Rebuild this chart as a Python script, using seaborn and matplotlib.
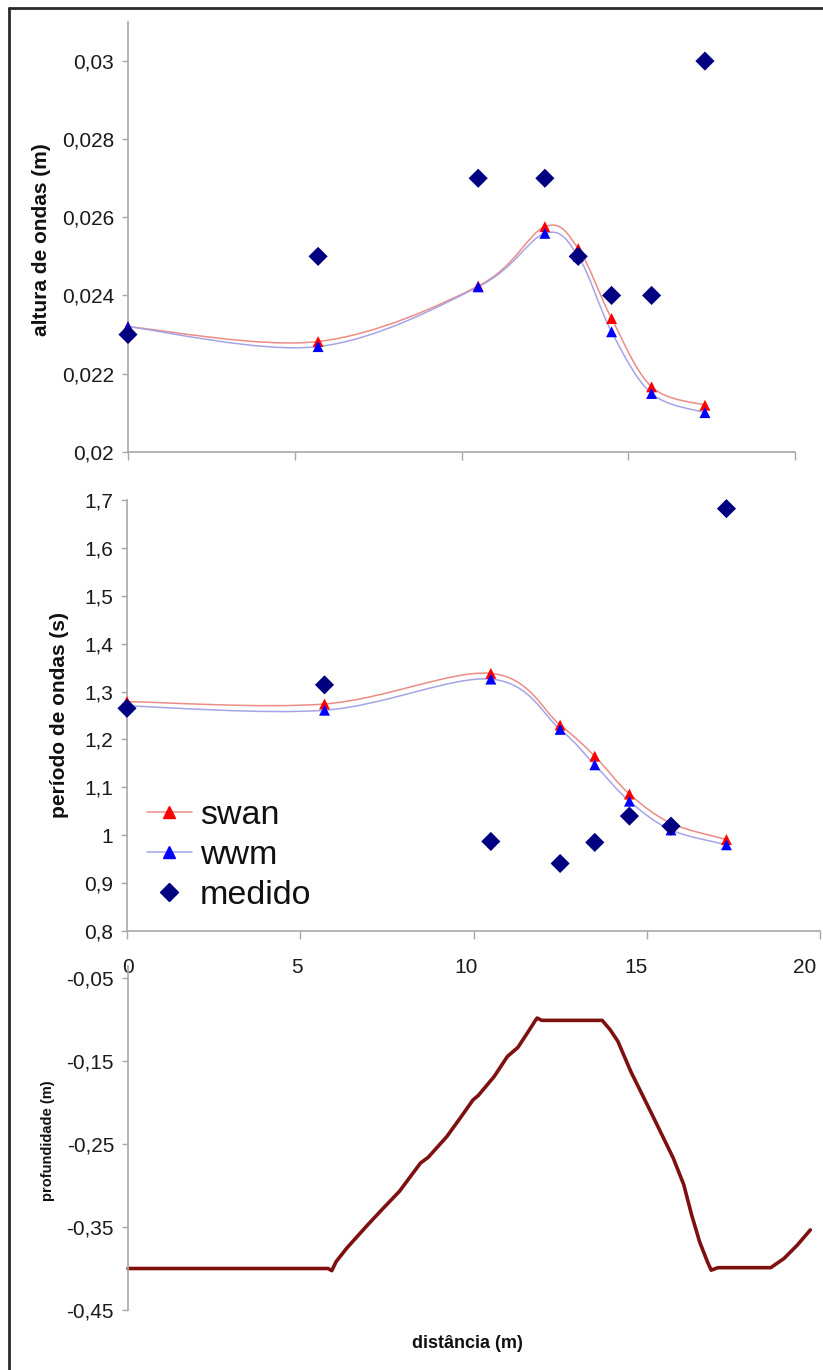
import numpy as np
import pandas as pd
import seaborn as sns
import matplotlib
matplotlib.use("Agg")
import matplotlib.pyplot as plt
from matplotlib.path import Path
from matplotlib.patches import PathPatch
from matplotlib.lines import Line2D
from matplotlib.ticker import FuncFormatter

sns.set_theme(style="white")
plt.rcParams["font.family"] = ["Liberation Sans", "DejaVu Sans"]

# ---------------- data ----------------
station_x = [0, 5.7, 10.5, 12.5, 13.5, 14.5, 15.7, 17.3]

altura_swan = [0.0232, 0.02282, 0.02424, 0.02576, 0.0252, 0.02341, 0.02166, 0.02119]
altura_wwm = [0.0232, 0.02269, 0.02422, 0.02559, 0.0250, 0.02307, 0.02149, 0.0210]
altura_medido = [0.023, 0.025, 0.027, 0.027, 0.025, 0.024, 0.024, 0.030]

periodo_swan = [1.279, 1.274, 1.338, 1.230, 1.165, 1.086, 1.025, 0.991]
periodo_wwm = [1.270, 1.261, 1.326, 1.221, 1.147, 1.071, 1.011, 0.980]
periodo_medido = [1.265, 1.314, 0.987, 0.941, 0.985, 1.040, 1.019, 1.682]

perfil_x = [0, 5.91, 6.02, 6.15, 6.46, 7.08, 7.55, 8.02, 8.64, 8.87, 9.42, 9.88,
            10.19, 10.35, 10.82, 11.21, 11.52, 11.83, 12.03, 12.09, 12.22, 14.01,
            14.24, 14.47, 14.86, 15.49, 16.11, 16.42, 16.65, 16.89, 17.12, 17.23,
            17.43, 18.99, 19.38, 19.77, 20.16]
perfil_y = [-0.400, -0.400, -0.4026, -0.3917, -0.3756, -0.3475, -0.327, -0.307,
            -0.273, -0.266, -0.241, -0.215, -0.197, -0.1915, -0.1686, -0.1445,
            -0.1336, -0.1143, -0.1015, -0.0982, -0.101, -0.101, -0.112, -0.126,
            -0.163, -0.215, -0.267, -0.299, -0.335, -0.368, -0.392, -0.402,
            -0.399, -0.399, -0.388, -0.372, -0.3535]

altura_ticks = [0.020, 0.022, 0.024, 0.026, 0.028, 0.030]
periodo_ticks = [0.8, 0.9, 1.0, 1.1, 1.2, 1.3, 1.4, 1.5, 1.6, 1.7]
perfil_ticks = [-0.45, -0.35, -0.25, -0.15, -0.05]
dist_ticks = [0, 5, 10, 15, 20]
series_names = ["swan", "wwm", "medido"]

# ---------------- style ----------------
W, H = 823, 1370
C_SWAN_LINE = "#ec8c84"
C_WWM_LINE = "#a4a4e6"
C_SWAN = "#ff0000"
C_WWM = "#0000ff"
C_MED = "#000080"
C_PERFIL = "#7f1010"
C_AXIS = "#a8a8a8"
TICK_FS = 15

fig = plt.figure(figsize=(W / 100, H / 100), dpi=100)
fig.patch.set_facecolor("white")


def px_axes(left, top, right, bottom):
    return fig.add_axes([left / W, 1 - bottom / H, (right - left) / W, (bottom - top) / H])


def comma(v, pos):
    s = f"{v:g}"
    return s.replace(".", ",")


def smooth_path(xs, ys):
    pts = np.column_stack([xs, ys]).astype(float)
    n = len(pts)
    verts = [pts[0]]
    codes = [Path.MOVETO]
    for i in range(n - 1):
        p0 = pts[i - 1] if i > 0 else pts[i]
        p1 = pts[i]
        p2 = pts[i + 1]
        p3 = pts[i + 2] if i + 2 < n else pts[i + 1]
        c1 = p1 + (p2 - p0) / 6.0
        c2 = p2 - (p3 - p1) / 6.0
        verts += [c1, c2, p2]
        codes += [Path.CURVE4] * 3
    return Path(verts, codes)


def style_axes(ax, show_bottom=True):
    for side in ["top", "right"]:
        ax.spines[side].set_visible(False)
    ax.spines["left"].set_color(C_AXIS)
    ax.spines["left"].set_linewidth(1.2)
    if show_bottom:
        ax.spines["bottom"].set_color(C_AXIS)
        ax.spines["bottom"].set_linewidth(1.2)
    else:
        ax.spines["bottom"].set_visible(False)
    ax.set_facecolor("white")
    ax.grid(False)
    ax.tick_params(axis="y", direction="out", length=4, width=1, color=C_AXIS,
                   labelsize=TICK_FS, labelcolor="#1a1a1a", pad=6, left=True)
    ax.yaxis.set_major_formatter(FuncFormatter(comma))
    ax.set_xlabel("")
    ax.set_ylabel("")


def draw_models(ax, ys_swan, ys_wwm, ys_med):
    ax.add_patch(PathPatch(smooth_path(station_x, ys_swan), facecolor="none",
                           edgecolor=C_SWAN_LINE, lw=1.1, zorder=2))
    ax.add_patch(PathPatch(smooth_path(station_x, ys_wwm), facecolor="none",
                           edgecolor=C_WWM_LINE, lw=1.1, zorder=2))
    sns.scatterplot(x=station_x, y=ys_swan, ax=ax, marker="^", s=62, color=C_SWAN,
                    edgecolor="none", zorder=3, clip_on=False)
    sns.scatterplot(x=station_x, y=ys_wwm, ax=ax, marker="^", s=62, color=C_WWM,
                    edgecolor="none", zorder=4, clip_on=False)
    sns.scatterplot(x=station_x, y=ys_med, ax=ax, marker="D", s=95, color=C_MED,
                    edgecolor="none", zorder=5, clip_on=False)


# ---------------- top panel ----------------
ax1 = px_axes(128, 22, 795, 451.7)
draw_models(ax1, altura_swan, altura_wwm, altura_medido)
ax1.set_xlim(0, 20)
ax1.set_ylim(0.02, 0.031)
ax1.set_yticks(altura_ticks)
ax1.set_xticks(dist_ticks)
ax1.set_xticklabels([])
style_axes(ax1)
ax1.tick_params(axis="x", direction="out", length=6, width=1, color=C_AXIS, bottom=True)

# ---------------- middle panel ----------------
ax2 = px_axes(127, 500, 820, 931)
draw_models(ax2, periodo_swan, periodo_wwm, periodo_medido)
ax2.set_xlim(0, 20)
ax2.set_ylim(0.8, 1.7)
ax2.set_yticks(periodo_ticks)
ax2.set_xticks(dist_ticks)
ax2.set_xticklabels([])
style_axes(ax2)
ax2.tick_params(axis="x", direction="out", length=6, width=1, color=C_AXIS, bottom=True)

handles = [
    Line2D([], [], color=C_SWAN_LINE, lw=1.1, marker="^", markersize=8,
           markerfacecolor=C_SWAN, markeredgecolor=C_SWAN),
    Line2D([], [], color=C_WWM_LINE, lw=1.1, marker="^", markersize=8,
           markerfacecolor=C_WWM, markeredgecolor=C_WWM),
    Line2D([], [], color="none", lw=0, marker="D", markersize=9.5,
           markerfacecolor=C_MED, markeredgecolor=C_MED),
]
leg = ax2.legend(handles, series_names, loc="upper left",
                 bbox_to_anchor=((147 - 127) / 693, (931 - 800) / 431),
                 frameon=False, fontsize=24.5, handlelength=1.32, handletextpad=0.24,
                 labelspacing=0.27, borderpad=0, borderaxespad=0)
for t in leg.get_texts():
    t.set_color("#111111")

# ---------------- bottom panel ----------------
ax3 = px_axes(128, 966, 810, 1310)
perfil_df = pd.DataFrame({"x": perfil_x, "y": perfil_y})
sns.lineplot(data=perfil_df, x="x", y="y", ax=ax3, color=C_PERFIL, lw=2.6,
             sort=False, estimator=None, clip_on=False)
ax3.set_xlim(0, 20.15)
ax3.set_ylim(-0.45, -0.0355)
ax3.set_yticks(perfil_ticks)
ax3.set_xticks(dist_ticks)
style_axes(ax3, show_bottom=False)
ax3.xaxis.tick_top()
ax3.tick_params(axis="x", top=True, labeltop=True, bottom=False, labelbottom=False,
                length=0, pad=-8, labelsize=TICK_FS, labelcolor="#1a1a1a")
ax3.set_xticklabels([str(v) for v in dist_ticks])

# ---------------- labels ----------------
fig.text(42 / W, 1 - 240 / H, "altura de ondas (m)", rotation=90, ha="center",
         va="center", fontsize=15, fontweight="bold", color="#111111")
fig.text(60 / W, 1 - 715 / H, "período de ondas (s)", rotation=90, ha="center",
         va="center", fontsize=15, fontweight="bold", color="#111111")
fig.text(48 / W, 1 - 1141 / H, "profundidade (m)", rotation=90, ha="center",
         va="center", fontsize=10.5, fontweight="bold", color="#111111")
fig.text(467 / W, 1 - 1343 / H, "distância (m)", ha="center", va="center",
         fontsize=13, fontweight="bold", color="#111111")

# outer frame (left and top edges visible in the reference)
fig.add_artist(Line2D([9 / W, 9 / W], [0, 1 - 8 / H], transform=fig.transFigure,
                      color="#2a2a2a", lw=2))
fig.add_artist(Line2D([9 / W, 1], [1 - 8 / H, 1 - 8 / H], transform=fig.transFigure,
                      color="#2a2a2a", lw=2))

fig.savefig("out.png", dpi=100, facecolor="white")
